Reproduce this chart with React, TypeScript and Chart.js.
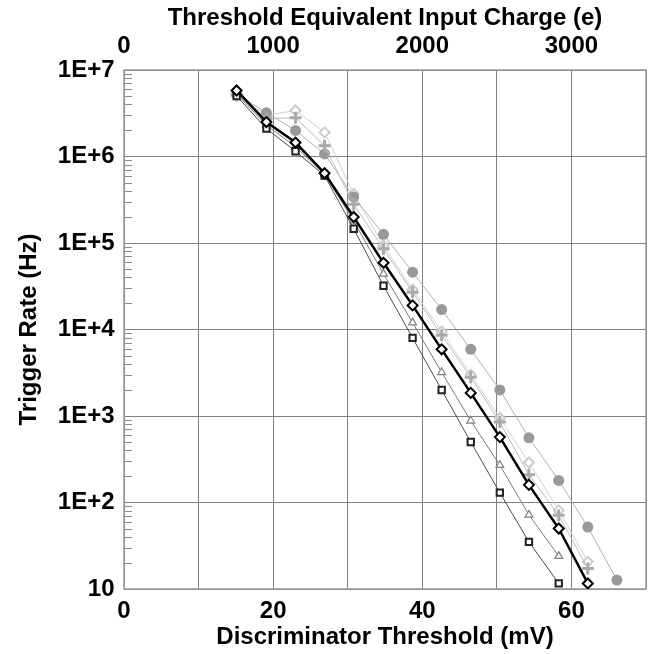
import React, { useEffect, useRef } from "react";
import { Chart, registerables } from "chart.js";

Chart.register(...registerables);

// Discriminator thresholds (mV)
const thresholds = [15.1, 19.1, 23.0, 26.9, 30.8, 34.8, 38.7, 42.6, 46.5, 50.4, 54.3, 58.3, 62.2, 66.1];

// Trigger rates (Hz) per series
const rateBlack = [5.8e6, 2.5e6, 1.45e6, 6.4e5, 2.0e5, 5.9e4, 1.9e4, 5.9e3, 1.85e3, 570, 160, 50, 11.6];
const rateSquare = [5.0e6, 2.1e6, 1.15e6, 6.0e5, 1.46e5, 3.2e4, 8.0e3, 2.0e3, 500, 130, 35, 11.6];
const rateTriangle = [5.3e6, 2.3e6, 1.3e6, 6.2e5, 1.8e5, 4.4e4, 1.2e4, 3.2e3, 880, 270, 72, 24];
const rateCircle = [5.3e6, 3.2e6, 2.0e6, 1.07e6, 3.4e5, 1.26e5, 4.6e4, 1.7e4, 5.9e3, 2.0e3, 560, 180, 52, 12.7];
const ratePlus = [5.2e6, 2.75e6, 2.8e6, 1.33e6, 2.8e5, 8.6e4, 2.7e4, 8.6e3, 2.8e3, 850, 210, 71, 17.3];
const rateDiamondLight = [5.0e6, 3.0e6, 3.4e6, 1.9e6, 3.7e5, 9.4e4, 2.9e4, 9.5e3, 3.0e3, 950, 290, 81, 20.6];

// Axis ranges / ticks
const xMin = 0;
const xMax = 70;
const xStep = 10;
const topMin = 0;
const topMax = 3500;
const topTicks = [0, 1000, 2000, 3000];
const yMin = 10;
const yMax = 1e7;

const xTitle = "Discriminator Threshold (mV)";
const topTitle = "Threshold Equivalent Input Charge (e)";
const yTitle = "Trigger Rate (Hz)";

const FONT = "'Liberation Sans', Arial, sans-serif";

const pts = (vals: number[]) => vals.map((v, i) => ({ x: thresholds[i], y: v }));

const isPow10 = (v: number) => {
  const l = Math.log10(v);
  return Math.abs(l - Math.round(l)) < 1e-9;
};

const framePlugin = {
  id: "frame",
  beforeDatasetsDraw(chart: any) {
    const { ctx, chartArea: a, scales } = chart;
    const y = scales.y;
    ctx.save();
    ctx.strokeStyle = "#8c8c8c";
    ctx.lineWidth = 1;
    for (let e = 1; e < 7; e++) {
      for (let m = 2; m <= 9; m++) {
        const py = Math.round(y.getPixelForValue(m * Math.pow(10, e))) + 0.5;
        ctx.beginPath();
        ctx.moveTo(a.left, py);
        ctx.lineTo(a.left + 8, py);
        ctx.stroke();
      }
    }
    ctx.strokeStyle = "#999999";
    ctx.lineWidth = 1.5;
    ctx.strokeRect(a.left, a.top, a.right - a.left, a.bottom - a.top);
    ctx.restore();
  },
};

export default function App() {
  const ref = useRef<HTMLCanvasElement | null>(null);

  useEffect(() => {
    if (!ref.current) return;
    const tickFont = { family: FONT, size: 24, weight: "bold" as const };
    const chart = new Chart(ref.current, {
      type: "line",
      data: {
        datasets: [
          {
            label: "black",
            data: pts(rateBlack),
            borderColor: "#000000",
            borderWidth: 2.5,
            pointStyle: "rectRot",
            pointRadius: 5,
            pointBorderWidth: 2,
            pointBorderColor: "#000000",
            pointBackgroundColor: "#ffffff",
          },
          {
            label: "square",
            data: pts(rateSquare),
            borderColor: "#4a4a4a",
            borderWidth: 1,
            pointStyle: "rect",
            pointRadius: 4.5,
            pointBorderWidth: 2,
            pointBorderColor: "#222222",
            pointBackgroundColor: "#ffffff",
          },
          {
            label: "triangle",
            data: pts(rateTriangle),
            borderColor: "#7a7a7a",
            borderWidth: 1,
            pointStyle: "triangle",
            pointRadius: 4.5,
            pointBorderWidth: 1.2,
            pointBorderColor: "#808080",
            pointBackgroundColor: "#ffffff",
          },
          {
            label: "plus",
            data: pts(ratePlus),
            borderColor: "#bbbbbb",
            borderWidth: 1,
            pointStyle: "cross",
            pointRadius: 6,
            pointBorderWidth: 3,
            pointBorderColor: "#aaaaaa",
            pointBackgroundColor: "#aaaaaa",
          },
          {
            label: "circle",
            data: pts(rateCircle),
            borderColor: "#b0b0b0",
            borderWidth: 1,
            pointStyle: "circle",
            pointRadius: 5.5,
            pointBorderWidth: 0,
            pointBorderColor: "#999999",
            pointBackgroundColor: "#999999",
          },
          {
            label: "diamondLight",
            data: pts(rateDiamondLight),
            borderColor: "#d0d0d0",
            borderWidth: 1,
            pointStyle: "rectRot",
            pointRadius: 5,
            pointBorderWidth: 2,
            pointBorderColor: "#cccccc",
            pointBackgroundColor: "#ffffff",
          },
        ],
      },
      options: {
        animation: false,
        responsive: false,
        layout: { padding: { right: 14, top: 0, bottom: 0, left: 0 } },
        plugins: { legend: { display: false }, tooltip: { enabled: false } },
        scales: {
          x: {
            type: "linear",
            position: "bottom",
            min: xMin,
            max: xMax,
            ticks: {
              stepSize: xStep,
              autoSkip: false,
              maxRotation: 0,
              padding: 7.6,
              color: "#000",
              font: tickFont,
              callback: (v: any) => (Number(v) % 20 === 0 ? String(v) : ""),
            },
            grid: { color: "#808080", lineWidth: 1, drawTicks: false },
            border: { display: false },
            title: {
              display: true,
              text: xTitle,
              color: "#000",
              font: tickFont,
              padding: { top: 0, bottom: 2.6 },
            },
            afterFit: (s: any) => {
              s.height = 65;
            },
          },
          x2: {
            type: "linear",
            position: "top",
            min: topMin,
            max: topMax,
            afterBuildTicks: (s: any) => {
              s.ticks = topTicks.map((v) => ({ value: v }));
            },
            ticks: {
              autoSkip: false,
              maxRotation: 0,
              padding: 9.6,
              color: "#000",
              font: tickFont,
              callback: (v: any) => String(v),
            },
            grid: { display: false, drawTicks: false },
            border: { display: false },
            title: {
              display: true,
              text: topTitle,
              color: "#000",
              font: tickFont,
              padding: { top: 3.6, bottom: 0 },
            },
            afterFit: (s: any) => {
              s.height = 70;
            },
          },
          y: {
            type: "logarithmic",
            position: "left",
            min: yMin,
            max: yMax,
            ticks: {
              autoSkip: false,
              padding: 9.5,
              color: "#000",
              font: tickFont,
              callback: (v: any) => {
                const n = Number(v);
                if (!isPow10(n)) return "";
                const e = Math.round(Math.log10(n));
                return e === 1 ? "10" : "1E+" + e;
              },
            },
            grid: {
              drawTicks: false,
              lineWidth: 1,
              color: (c: any) => (c.tick && isPow10(c.tick.value) ? "#808080" : "rgba(0,0,0,0)"),
            },
            border: { display: false },
            title: {
              display: true,
              text: yTitle,
              color: "#000",
              font: tickFont,
              padding: { top: 14.6, bottom: 0 },
            },
            afterFit: (s: any) => {
              s.width = 124;
            },
          },
        },
      },
      plugins: [framePlugin],
    });
    return () => chart.destroy();
  }, []);

  return (
    <div style={{ position: "absolute", left: 0, top: 0, width: 660, height: 654, background: "#fff" }}>
      <canvas ref={ref} width={660} height={654} />
    </div>
  );
}
